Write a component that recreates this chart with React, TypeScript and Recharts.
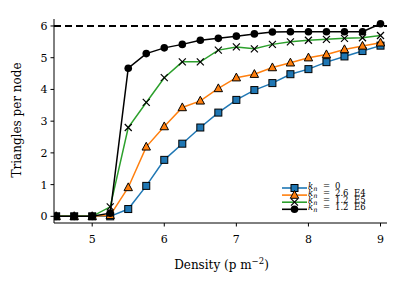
import React from "react";
import { LineChart, Line, XAxis, YAxis, ReferenceLine } from "recharts";

const density = [4.5, 4.75, 5, 5.25, 5.5, 5.75, 6, 6.25, 6.5, 6.75, 7, 7.25, 7.5, 7.75, 8, 8.25, 8.5, 8.75, 9];
const kn0 = [0, 0, 0, 0, 0.23, 0.96, 1.78, 2.29, 2.8, 3.27, 3.67, 3.98, 4.2, 4.48, 4.64, 4.86, 5.04, 5.21, 5.38];
const kn26e4 = [0, 0, 0, 0.03, 0.91, 2.19, 2.83, 3.43, 3.64, 4.03, 4.37, 4.48, 4.69, 4.84, 5.0, 5.1, 5.26, 5.37, 5.47];
const kn12e5 = [0, 0, 0, 0.3, 2.8, 3.59, 4.37, 4.87, 4.87, 5.24, 5.34, 5.28, 5.42, 5.5, 5.55, 5.58, 5.61, 5.63, 5.7];
const kn12e6 = [0, 0, 0, 0.1, 4.67, 5.13, 5.31, 5.42, 5.55, 5.61, 5.68, 5.75, 5.81, 5.82, 5.82, 5.82, 5.82, 5.82, 6.07];
const seriesLabels = ["0", "2.6  E4", "1.2  E5", "1.2  E6"];
const xTicks = [5, 6, 7, 8, 9];
const yTicks = [0, 1, 2, 3, 4, 5, 6];
const maxTriangles = 6;

const FONT = "'DejaVu Serif', 'Liberation Serif', serif";

const data = density.map((d, i) => ({
  density: d,
  a: kn0[i],
  b: kn26e4[i],
  c: kn12e5[i],
  d: kn12e6[i],
}));

type Mark = "square" | "triangle" | "x" | "circle";

function Marker({ kind, cx, cy, fill }: { kind: Mark; cx: number; cy: number; fill: string }) {
  if (kind === "square")
    return <rect x={cx - 3.5} y={cy - 3.5} width={7} height={7} fill={fill} stroke="#000" strokeWidth={1} />;
  if (kind === "triangle")
    return (
      <polygon
        points={`${cx},${cy - 4.6} ${cx - 4.2},${cy + 3.2} ${cx + 4.2},${cy + 3.2}`}
        fill={fill}
        stroke="#000"
        strokeWidth={1}
      />
    );
  if (kind === "x")
    return (
      <g stroke="#000" strokeWidth={1.2}>
        <line x1={cx - 3.5} y1={cy - 3.5} x2={cx + 3.5} y2={cy + 3.5} />
        <line x1={cx - 3.5} y1={cy + 3.5} x2={cx + 3.5} y2={cy - 3.5} />
      </g>
    );
  return <circle cx={cx} cy={cy} r={3.8} fill="#000" />;
}

const series: { key: string; color: string; mark: Mark }[] = [
  { key: "a", color: "#1f77b4", mark: "square" },
  { key: "b", color: "#ff7f0e", mark: "triangle" },
  { key: "c", color: "#2ca02c", mark: "x" },
  { key: "d", color: "#000000", mark: "circle" },
];

function makeDot(kind: Mark, color: string) {
  return (props: any) => {
    const { cx, cy, index } = props;
    if (cx == null || cy == null) return <g key={index} />;
    return (
      <g key={index}>
        <Marker kind={kind} cx={cx} cy={cy} fill={color} />
      </g>
    );
  };
}

// legend drawn as an overlay so it doesn't eat plot height
function LegendBox() {
  return (
    <svg width={110} height={40} style={{ display: "block", overflow: "visible" }}>
      {series.map((s, i) => {
        const y = 6 + i * 7.1;
        return (
          <g key={s.key}>
            <line x1={0} y1={y} x2={25} y2={y} stroke={s.color} strokeWidth={1.6} />
            <Marker kind={s.mark} cx={12.5} cy={y} fill={s.color} />
            <text y={y + 1} fontFamily={FONT} fontSize={8.5} fill="#000" style={{ whiteSpace: "pre" }}>
              <tspan x={26} fontStyle="italic">k</tspan>
              <tspan fontStyle="italic" fontSize={6.5} dy={1.5}>n</tspan>
              <tspan x={41} dy={-1.5}>=</tspan>
              <tspan x={53}>{seriesLabels[i]}</tspan>
            </text>
          </g>
        );
      })}
    </svg>
  );
}

function YLabel(props: any) {
  const { viewBox } = props;
  const x = viewBox.x + 3;
  const y = viewBox.y + viewBox.height / 2 - 1;
  return (
    <text x={x} y={y} transform={`rotate(-90 ${x} ${y})`} textAnchor="middle" dominantBaseline="central" fontFamily={FONT} fontSize={12} fill="#000">
      Triangles per node
    </text>
  );
}

function XLabel(props: any) {
  const { viewBox } = props;
  const x = viewBox.x + viewBox.width / 2 + 1;
  const y = viewBox.y + 46;
  return (
    <text x={x} y={y} textAnchor="middle" fontFamily={FONT} fontSize={12} fill="#000">
      Density (p m
      <tspan fontSize={8.5} dy={-5}>−2</tspan>
      <tspan dy={5}>)</tspan>
    </text>
  );
}

export default function App() {
  return (
    <div style={{ position: "fixed", left: 0, top: 0, width: 407, height: 287, background: "#fff" }}>
      <LineChart
        width={407}
        height={287}
        data={data}
        margin={{ top: 19, right: 20, bottom: 34, left: 14 }}
        style={{ fontFamily: FONT }}
      >
        <XAxis
          dataKey="density"
          type="number"
          domain={[4.47, 9.09]}
          ticks={xTicks}
          tickSize={3.5}
          tickMargin={9}
          height={30}
          axisLine={{ stroke: "#000", strokeWidth: 1 }}
          tickLine={{ stroke: "#000", strokeWidth: 1 }}
          tick={{ fill: "#000", fontSize: 11, fontFamily: FONT }}
          allowDataOverflow
          label={<XLabel />}
        />
        <XAxis xAxisId="top" orientation="top" height={0} tick={false} tickLine={false} axisLine={{ stroke: "#000" }} />
        <YAxis
          type="number"
          domain={[-0.21, 6.22]}
          ticks={yTicks}
          width={40}
          tickSize={3.5}
          tickMargin={3}
          axisLine={{ stroke: "#000", strokeWidth: 1 }}
          tickLine={{ stroke: "#000", strokeWidth: 1 }}
          tick={{ fill: "#000", fontSize: 11, fontFamily: FONT }}
          allowDataOverflow
          label={<YLabel />}
        />
        <YAxis yAxisId="right" orientation="right" width={0} tick={false} tickLine={false} axisLine={{ stroke: "#000" }} />
        <ReferenceLine y={maxTriangles} stroke="#000" strokeWidth={2.2} strokeDasharray="7 4" />
        {series.map((s) => (
          <Line
            key={s.key}
            dataKey={s.key}
            stroke={s.color}
            strokeWidth={1.5}
            dot={makeDot(s.mark, s.color)}
            activeDot={false}
            isAnimationActive={false}
          />
        ))}
      </LineChart>
      <div style={{ position: "absolute", left: 282, top: 182 }}>
        <LegendBox />
      </div>
    </div>
  );
}
